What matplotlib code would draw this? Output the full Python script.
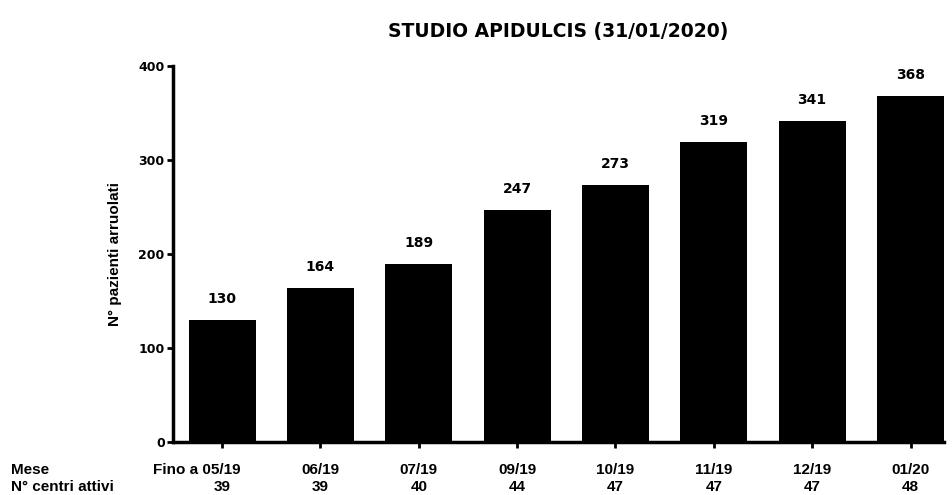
import numpy as np
import matplotlib
matplotlib.use("Agg")
import matplotlib.pyplot as plt
import matplotlib.transforms as mtransforms

plt.rcParams['font.family'] = ['Liberation Sans', 'DejaVu Sans']

# dati
mesi = ["Fino a 05/19", "06/19", "07/19", "09/19", "10/19", "11/19", "12/19", "01/20"]
centri_attivi = [39, 39, 40, 44, 47, 47, 47, 48]
pazienti = [130, 164, 189, 247, 273, 319, 341, 368]
y_ticks = [0, 100, 200, 300, 400]

fig = plt.figure(figsize=(9.53, 4.95), dpi=100)
ax = fig.add_axes([0.1815, 0.107, 0.809, 0.760])

x = np.arange(len(pazienti))
bars = ax.bar(x, pazienti, width=0.68, color="black", zorder=2)

for xi, v in zip(x, pazienti):
    ax.annotate(str(v), (xi, v), xytext=(0, 10), textcoords="offset points",
                ha="center", va="bottom", fontsize=10, fontweight="bold",
                family="DejaVu Sans")

ax.set_xlim(-0.5, len(pazienti) - 1 + 0.34)
ax.set_ylim(0, 400)
ax.set_yticks(y_ticks)
ax.set_xticks(x)
ax.set_xticklabels([])

ax.spines["top"].set_visible(False)
ax.spines["right"].set_visible(False)
ax.spines["left"].set_linewidth(2.5)
ax.spines["bottom"].set_linewidth(2.5)
ax.tick_params(axis="y", width=2, length=4, labelsize=9, pad=2)
ax.tick_params(axis="x", width=2, length=4)
for lab in ax.get_yticklabels():
    lab.set_fontweight("bold")
    lab.set_family("DejaVu Sans")

ax.set_ylabel("N° pazienti arruolati", fontsize=11, fontweight="bold", labelpad=12)
ax.set_title("STUDIO APIDULCIS (31/01/2020)", fontsize=13.5, fontweight="bold",
             pad=21, family="DejaVu Sans")

# etichette sotto l'asse
trans = mtransforms.blended_transform_factory(ax.transData, fig.transFigure)
fig.text(0.012, 1 - 470 / 495, "Mese", fontsize=11, fontweight="bold", va="center")
fig.text(0.012, 1 - 487 / 495, "N° centri attivi", fontsize=11, fontweight="bold", va="center")
for i, (m, c) in enumerate(zip(mesi, centri_attivi)):
    dx = -0.26 if i == 0 else 0
    ax.text(i + dx, 1 - 470 / 495, m, transform=trans, ha="center", va="center",
            fontsize=11, fontweight="bold")
    ax.text(i, 1 - 487 / 495, str(c), transform=trans, ha="center", va="center",
            fontsize=11, fontweight="bold")

fig.savefig("out.png", dpi=100)
